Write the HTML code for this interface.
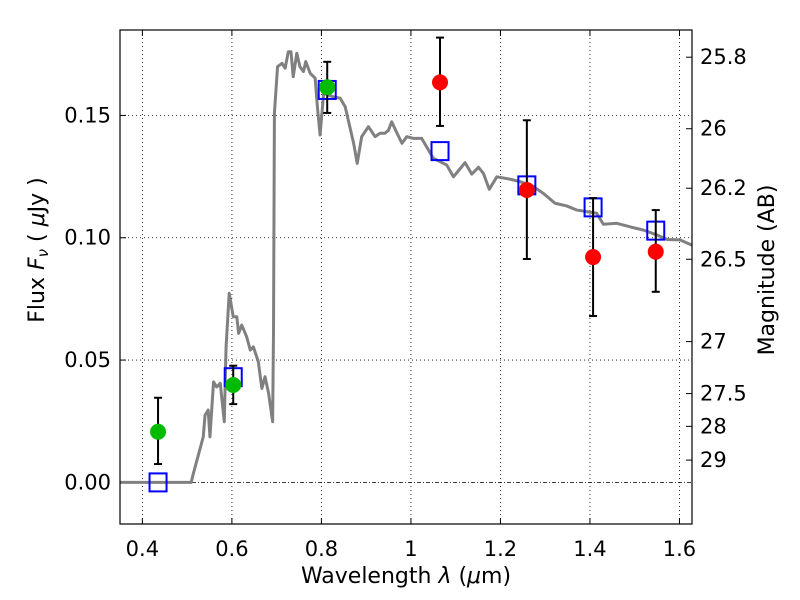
<!DOCTYPE html>
<html><head><meta charset="utf-8"><style>
html,body{margin:0;padding:0;background:#fff;}
svg{display:block;font-family:"DejaVu Sans","Liberation Sans",sans-serif;}
</style></head><body>
<svg id="chart" width="800" height="600"></svg>
<script>
const xTicks=[0.4,0.6,0.8,1.0,1.2,1.4,1.6];
const xTickLabels=["0.4","0.6","0.8","1","1.2","1.4","1.6"];
const yTicks=[0,0.05,0.10,0.15];
const yTickLabels=["0.00","0.05","0.10","0.15"];
const magTicks=[25.8,26,26.2,26.5,27,27.5,28,29];
const magLabels=["25.8","26","26.2","26.5","27","27.5","28","29"];
const specLam=[0.35,0.509,0.514,0.536,0.540,0.547,0.551,0.559,0.566,0.574,0.583,0.587,0.594,0.603,0.611,0.615,0.622,0.633,0.641,0.648,0.659,0.667,0.674,0.682,0.691,0.693,0.695,0.702,0.712,0.719,0.726,0.732,0.737,0.745,0.752,0.760,0.765,0.775,0.786,0.791,0.797,0.805,0.827,0.842,0.853,0.860,0.872,0.880,0.890,0.905,0.920,0.931,0.942,0.950,0.957,0.969,0.980,0.991,1.006,1.024,1.050,1.080,1.095,1.121,1.136,1.151,1.162,1.175,1.192,1.222,1.244,1.274,1.296,1.322,1.348,1.371,1.415,1.430,1.460,1.497,1.520,1.550,1.572,1.601,1.628];
const specFlux=[0,0,0.0037,0.0186,0.0275,0.0296,0.0186,0.0411,0.039,0.0405,0.0248,0.0554,0.0773,0.0677,0.0677,0.0609,0.0643,0.0595,0.0541,0.0554,0.0493,0.0384,0.0432,0.0364,0.0248,0.0623,0.1509,0.1699,0.1713,0.1693,0.176,0.176,0.1658,0.1754,0.1699,0.1679,0.172,0.1672,0.1652,0.1536,0.142,0.159,0.1576,0.157,0.1536,0.1481,0.1386,0.1304,0.1413,0.1454,0.1413,0.1427,0.1427,0.144,0.1474,0.1427,0.1386,0.1413,0.1406,0.1406,0.1325,0.1297,0.1249,0.1307,0.126,0.1288,0.1263,0.1198,0.1249,0.1239,0.1229,0.1209,0.1181,0.1141,0.113,0.1113,0.11,0.1055,0.1059,0.1041,0.1031,0.1011,0.0993,0.0991,0.097];
const greenLam=[0.435,0.603,0.813];
const greenFlux=[0.0207,0.0398,0.1615];
const greenErrHi=[0.0346,0.0477,0.1719];
const greenErrLo=[0.0075,0.032,0.151];
const redLam=[1.065,1.259,1.407,1.547];
const redFlux=[0.1635,0.1195,0.0921,0.0943];
const redErrHi=[0.1818,0.148,0.1162,0.1113];
const redErrLo=[0.1457,0.0913,0.068,0.0779];
const modelLam=[0.435,0.603,0.813,1.065,1.259,1.407,1.547];
const modelFlux=[0,0.043,0.1604,0.1354,0.1214,0.1124,0.1029];

const L=120,R=692,T=30,B=524;
const X0=0.35,X1=1.628,Y0=-0.017,Y1=0.1849;
const sx=v=>L+(v-X0)/(X1-X0)*(R-L);
const sy=v=>B-(v-Y0)/(Y1-Y0)*(B-T);
const svg=document.getElementById('chart');
const NS='http://www.w3.org/2000/svg';
function mk(tag,attrs,parent){const e=document.createElementNS(NS,tag);for(const k in attrs)e.setAttribute(k,attrs[k]);(parent||svg).appendChild(e);return e;}

xTicks.forEach((v,i)=>{
 const g=mk('line',{x1:sx(v),x2:sx(v),y1:T,y2:B,stroke:'#000','stroke-width':0.8,'stroke-dasharray':'1,3'});
 
 
 mk('line',{x1:sx(v),x2:sx(v),y1:B,y2:B-6,stroke:'#000'});
 mk('line',{x1:sx(v),x2:sx(v),y1:T,y2:T+6,stroke:'#000'});
 const t=mk('text',{x:sx(v),y:556,'text-anchor':'middle','font-size':21});
 t.textContent=xTickLabels[i];
 
 
});
yTicks.forEach((v,i)=>{
 const g=mk('line',{x1:L,x2:R,y1:sy(v),y2:sy(v),stroke:'#000','stroke-width':0.8,'stroke-dasharray':v===0?'4,2,1,2':'1,3'});
 
 
 mk('line',{x1:L,x2:L+6,y1:sy(v),y2:sy(v),stroke:'#000'});
 const t=mk('text',{x:111,y:sy(v)+7,'text-anchor':'end','font-size':21});
 t.textContent=yTickLabels[i];
 
 
});
magTicks.forEach((m,i)=>{
 const f=Math.pow(10,-0.4*(m-23.9));
 mk('line',{x1:R,x2:R-6,y1:sy(f),y2:sy(f),stroke:'#000'});
 const t=mk('text',{x:700,y:sy(f)+7,'font-size':21});
 t.textContent=magLabels[i];
 
 
});

const sp=mk('polyline',{points:specLam.map((l,i)=>sx(l)+','+sy(specFlux[i])).join(' '),fill:'none',stroke:'#808080','stroke-width':3,'stroke-linejoin':'round'});



function errbar(x,lo,hi,name){
 const g=mk('g',{stroke:'#000','stroke-width':2});
 
 
 mk('line',{x1:sx(x),x2:sx(x),y1:sy(lo),y2:sy(hi)},g);
 mk('line',{x1:sx(x)-4,x2:sx(x)+4,y1:sy(lo),y2:sy(lo)},g);
 mk('line',{x1:sx(x)-4,x2:sx(x)+4,y1:sy(hi),y2:sy(hi)},g);
}
modelLam.forEach((l,i)=>{
 const r=mk('rect',{x:sx(l)-8.5,y:sy(modelFlux[i])-9,width:17,height:18,fill:'none',stroke:'#0000ff','stroke-width':2});
 
 
});
greenLam.forEach((l,i)=>{
 errbar(l,greenErrLo[i],greenErrHi[i],'green-error-bar');
 const c=mk('circle',{cx:sx(l),cy:sy(greenFlux[i]),r:8,fill:'#00bb00'});
 
 
});
redLam.forEach((l,i)=>{
 errbar(l,redErrLo[i],redErrHi[i],'red-error-bar');
 const c=mk('circle',{cx:sx(l),cy:sy(redFlux[i]),r:8,fill:'#ff0000'});
 
 
});

const fr=mk('rect',{x:L,y:T,width:R-L,height:B-T,fill:'none',stroke:'#000','stroke-width':1.2});



const xl=mk('text',{x:406,y:583,'text-anchor':'middle','font-size':22,'xml:space':'preserve'});
xl.innerHTML='Wavelength  <tspan font-style="italic">λ</tspan> (<tspan font-style="italic">μ</tspan>m)';


const yl=mk('text',{x:0,y:0,'text-anchor':'middle','font-size':22,transform:'translate(44,250) rotate(-90)'});
yl.innerHTML='Flux  <tspan font-style="italic">F</tspan><tspan font-style="italic" font-size="15" dy="4">ν</tspan><tspan dy="-4">  (  </tspan><tspan font-style="italic">μ</tspan>Jy )';


const ml=mk('text',{x:0,y:0,'text-anchor':'middle','font-size':22,transform:'translate(774,270) rotate(-90)'});
ml.textContent='Magnitude (AB)';


</script>
</body></html>
